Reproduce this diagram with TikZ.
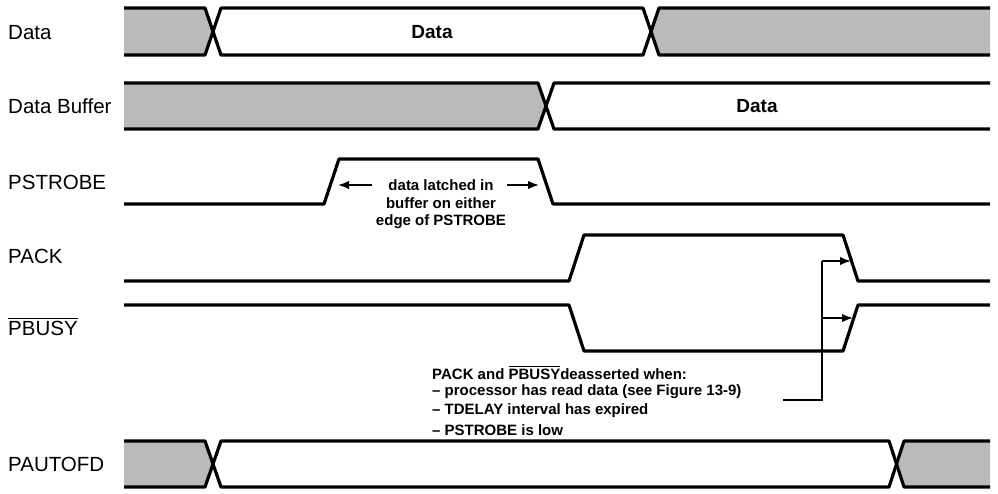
\documentclass[tikz,border=0pt]{standalone}
\usepackage{fontspec}
\setmainfont{Liberation Sans}
\usetikzlibrary{arrows.meta}
\newcommand{\ovbar}[1]{\setbox0=\hbox{#1}\rlap{\rule[\dimexpr\ht0+0.1em\relax]{\wd0}{0.07em}}\box0}
\tikzset{
  sig/.style={line width=3.2pt, line join=round},
  shade/.style={fill=black!27, draw=none},
  lbl/.style={anchor=west, inner sep=0pt, font=\fontsize{20.5}{24}\selectfont},
  bustext/.style={inner sep=0pt, font=\fontsize{19}{22}\selectfont\bfseries},
  note/.style={anchor=west, inner sep=0pt, font=\fontsize{15}{17}\selectfont\bfseries},
  cnote/.style={inner sep=0pt, font=\fontsize{15}{17}\selectfont\bfseries},
  ptr/.style={line width=1.8pt, -{Latex[length=11pt,width=8.5pt]}},
  lead/.style={line width=2pt}
}
\begin{document}
\begin{tikzpicture}[x=1pt,y=-1pt]
\useasboundingbox (0,0) rectangle (998,493);
% labels
\node[lbl] (lData) at (8,33) {Data};
\node[lbl] (lBuf) at (8,106) {Data Buffer};
\node[lbl] (lStr) at (8,182) {PSTROBE};
\node[lbl] (lAck) at (8,256) {PACK};
\node[lbl] (lBusy) at (8,327) {\ovbar{PBUSY}};
\node[lbl] (lAuto) at (8,464) {PAUTOFD};
% Data bus
\fill[shade] (124,8)--(205,8)--(213,31.5)--(205,55)--(124,55)--cycle;
\fill[shade] (990,8)--(659,8)--(651,31.5)--(659,55)--(990,55)--cycle;
\draw[sig] (124,8)--(205,8)--(221,55)--(643,55)--(659,8)--(990,8);
\draw[sig] (124,55)--(205,55)--(221,8)--(643,8)--(659,55)--(990,55);
\node[bustext] (tData) at (432,32) {Data};
% Data Buffer bus
\fill[shade] (124,83)--(538,83)--(546,106)--(538,129)--(124,129)--cycle;
\draw[sig] (124,83)--(538,83)--(554,129)--(990,129);
\draw[sig] (124,129)--(538,129)--(554,83)--(990,83);
\node[bustext] (tBuf) at (757,106) {Data};
% PSTROBE
\draw[sig] (124,204)--(324,204)--(339,159)--(538,159)--(553,204)--(990,204);
\coordinate (rise) at (338,185);
\coordinate (fall) at (539,185);
\coordinate (ltail) at (372,185);
\coordinate (rtail) at (507,185);
\node[cnote] (n1) at (441,185) {data latched in};
\node[cnote] (n2) at (441,203.5) {buffer on either};
\node[cnote] (n3) at (441,222) {edge of PSTROBE};
\draw[ptr] (ltail) -- (rise);
\draw[ptr] (rtail) -- (fall);
% PACK
\draw[sig] (124,281)--(569,281)--(584,235)--(843,235)--(858,281)--(990,281);
% PBUSY
\draw[sig] (124,305)--(569,305)--(584,351)--(843,351)--(858,305)--(990,305);
% annotation
\coordinate (vtop) at (822,261);
\coordinate (vmid) at (822,318);
\coordinate (vbot) at (822,400);
\coordinate (hend) at (783,400);
\coordinate (ackpt) at (851,261);
\coordinate (busypt) at (853,318);
\draw[lead] (hend) -- (vbot) -- (vtop);
\draw[ptr] (vtop) -- (ackpt);
\draw[ptr] (vmid) -- (busypt);
\node[note] (a1) at (432,373) {PACK and \ovbar{PBUSY}deasserted when:};
\node[note] (a2) at (432,392) {-- processor has read data (see Figure 13-9)};
\node[note] (a3) at (432,411) {-- TDELAY interval has expired};
\node[note] (a4) at (432,430) {-- PSTROBE is low};
% PAUTOFD bus
\fill[shade] (124,441)--(205,441)--(213,464)--(205,487)--(124,487)--cycle;
\fill[shade] (990,441)--(904,441)--(897,464)--(904,487)--(990,487)--cycle;
\draw[sig] (124,441)--(205,441)--(221,487)--(889,487)--(904,441)--(990,441);
\draw[sig] (124,487)--(205,487)--(221,441)--(889,441)--(904,487)--(990,487);
\end{tikzpicture}
\end{document}
